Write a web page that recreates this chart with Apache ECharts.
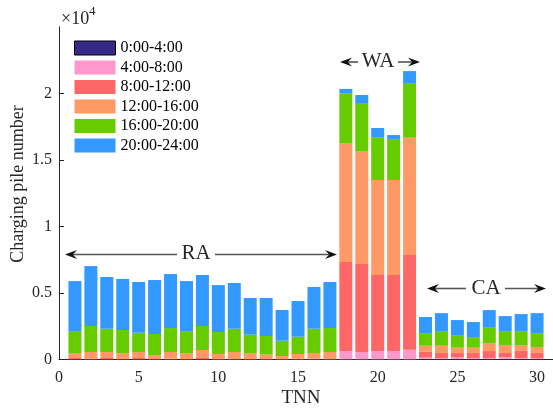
<!DOCTYPE html>
<html>
<head>
<meta charset="utf-8">
<script src="https://cdn.jsdelivr.net/npm/echarts@6/dist/echarts.min.js"></script>
<style>
  html, body { margin: 0; padding: 0; background: #fff; }
  #chart { width: 553px; height: 409px; }
</style>
</head>
<body>
<div id="chart"></div>
<script>
// Station index (TNN) on the horizontal axis
const tnn = [1, 2, 3, 4, 5, 6, 7, 8, 9, 10, 11, 12, 13, 14, 15, 16, 17, 18, 19, 20, 21, 22, 23, 24, 25, 26, 27, 28, 29, 30];

// Charging pile usage per 4-hour slot (piles)
const slot00_04 = [0, 0, 0, 0, 0, 0, 0, 0, 0, 0, 0, 0, 0, 0, 0, 0, 0,
  0, 0, 0, 0, 0,
  30, 20, 30, 20, 20, 30, 20, 20];
const slot04_08 = [0, 0, 0, 0, 0, 0, 0, 0, 0, 0, 0, 0, 0, 0, 0, 0, 0,
  620, 550, 620, 620, 720,
  90, 80, 120, 80, 80, 120, 80, 60];
const slot08_12 = [100, 30, 100, 30, 100, 0, 50, 0, 100, 0, 0, 0, 0, 0, 50, 50, 0,
  6700, 6620, 5720, 5720, 7120,
  450, 370, 320, 370, 520, 320, 520, 390];
const slot12_16 = [370, 520, 450, 440, 450, 320, 500, 470, 600, 400, 550, 470, 350, 250, 350, 420, 550,
  8900, 8440, 7140, 7140, 8820,
  450, 550, 400, 400, 600, 600, 450, 450];
const slot16_20 = [1650, 1950, 1750, 1730, 1450, 1580, 1800, 1650, 1800, 1650, 1750, 1380, 1400, 1150, 1300, 1830, 1800,
  3760, 3660, 3180, 3080, 4110,
  900, 1050, 900, 800, 1150, 1050, 1050, 1050];
const slot20_24 = [3760, 4510, 3890, 3840, 3810, 4060, 4060, 3760, 3840, 3530, 3440, 2760, 2860, 2310, 2680, 3140, 3460,
  350, 600, 730, 300, 900,
  1260, 1400, 1180, 1130, 1330, 1130, 1280, 1500];

const slotNames = ['0:00-4:00', '4:00-8:00', '8:00-12:00', '12:00-16:00', '16:00-20:00', '20:00-24:00'];
const slotData = [slot00_04, slot04_08, slot08_12, slot12_16, slot16_20, slot20_24];
const slotColors = ['#352a87', '#ff99cc', '#ff6666', '#ff9966', '#66cc00', '#3399ff'];

// Axis range 0..31, labelled every 5
const xRange = [0, 31];
const xTicks = [0, 5, 10, 15, 20, 25, 30];
const yTicks = [0, 5000, 10000, 15000, 20000];

const serif = 'Liberation Serif';
const ink = '#262626';

const xCategories = [];
for (let v = xRange[0]; v <= xRange[1]; v++) xCategories.push(String(v));
const isTick = (idx, val) => xTicks.indexOf(Number(val)) >= 0;

const chart = echarts.init(document.getElementById('chart'), null, { renderer: 'canvas' });

const series = slotNames.map((name, i) => ({
  name: name,
  type: 'bar',
  stack: 'total',
  barWidth: 13,
  itemStyle: { color: slotColors[i] },
  emphasis: { disabled: true },
  data: tnn.map((t, k) => [String(t), slotData[i][k]])
}));

// Double-headed region markers drawn as annotation graphics
const HEAD_L = 12, HEAD_W = 9;
function arrow(fromX, tipX, y) {
  const dir = tipX > fromX ? 1 : -1;
  const notchX = tipX - dir * HEAD_L * 0.65;
  return [
    {
      type: 'line',
      shape: { x1: fromX, y1: y, x2: notchX, y2: y },
      style: { stroke: '#555', lineWidth: 1.6 },
      z: 10
    },
    {
      type: 'polygon',
      shape: {
        points: [
          [tipX, y],
          [tipX - dir * HEAD_L, y - HEAD_W / 2],
          [notchX, y],
          [tipX - dir * HEAD_L, y + HEAD_W / 2]
        ]
      },
      style: { fill: '#111' },
      z: 10
    }
  ];
}
function plainText(txt, x, y, size, opts) {
  return Object.assign({
    type: 'text',
    x: x, y: y,
    style: {
      text: txt, fill: ink,
      font: size + 'px "' + serif + '"',
      textAlign: 'center', textVerticalAlign: 'middle'
    },
    z: 10
  }, opts || {});
}

const graphics = [].concat(
  arrow(177, 65, 254.5), arrow(215, 337, 254.5), [plainText('RA', 196, 253, 21)],
  arrow(358, 340, 62), arrow(398, 420, 62), [plainText('WA', 378, 61, 21)],
  arrow(466, 427, 288.5), arrow(505, 546, 288.5), [plainText('CA', 486, 288, 21)],
  [
    plainText('Charging pile number', 18, 184, 18, { rotation: Math.PI / 2 }),
    plainText('TNN', 301, 398, 19),
    {
      type: 'text', x: 61, y: 19,
      style: { text: '×10', fill: ink, font: '18px "' + serif + '"', textAlign: 'left', textVerticalAlign: 'middle' }
    },
    {
      type: 'text', x: 89, y: 12,
      style: { text: '4', fill: ink, font: '13px "' + serif + '"', textAlign: 'left', textVerticalAlign: 'middle' }
    }
  ]
);

chart.setOption({
  animation: false,
  backgroundColor: '#fff',
  grid: { left: 59, right: -4, top: 26.8, bottom: 49.7, containLabel: false },
  legend: {
    orient: 'vertical',
    left: 74, top: 40,
    padding: 0,
    itemWidth: 41, itemHeight: 14, itemGap: 3.5,
    icon: 'rect',
    selectedMode: false,
    textStyle: { fontFamily: serif, fontSize: 16, color: '#000' },
    data: slotNames.map((n, i) => i === 0
      ? { name: n, itemStyle: { borderColor: '#000', borderWidth: 1 } }
      : { name: n })
  },
  xAxis: {
    type: 'category',
    data: xCategories,
    boundaryGap: false,
    splitLine: { show: false },
    axisLine: { show: true, onZero: false, lineStyle: { color: ink, width: 1 } },
    axisTick: { show: true, inside: true, length: 5, interval: isTick, lineStyle: { color: ink } },
    axisLabel: { interval: isTick, margin: 10, fontFamily: serif, fontSize: 16, color: ink }
  },
  yAxis: {
    type: 'value',
    min: 0, max: 25000,
    splitLine: { show: false },
    axisLine: { show: true, lineStyle: { color: ink, width: 1 } },
    axisTick: { show: true, inside: true, length: 5, customValues: yTicks, lineStyle: { color: ink } },
    axisLabel: {
      customValues: yTicks, margin: 7, fontFamily: serif, fontSize: 16, color: ink,
      formatter: v => String(v / 10000)
    }
  },
  series: series,
  graphic: graphics
});
</script>
</body>
</html>
